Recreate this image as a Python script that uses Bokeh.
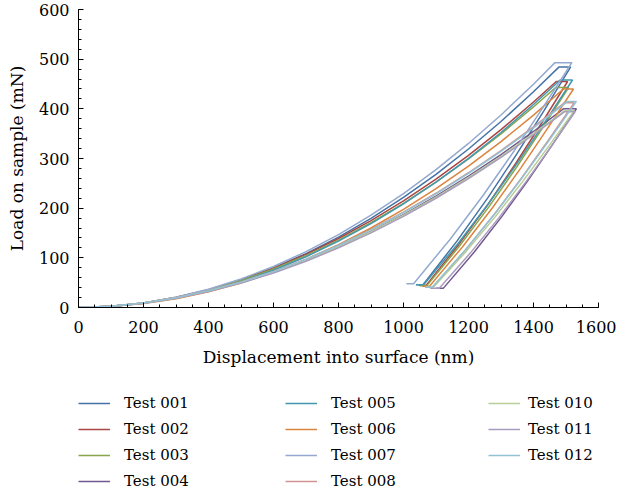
from bokeh.plotting import figure
from bokeh.models import Range1d, Legend, LegendItem, SingleIntervalTicker
from bokeh.layouts import column
from bokeh.embed import file_html
from bokeh.resources import INLINE

tests = ["Test 001", "Test 002", "Test 003", "Test 004", "Test 005", "Test 006",
         "Test 007", "Test 008", "Test 010", "Test 011", "Test 012"]
colors = ["#4572A7", "#AA4643", "#89A54E", "#71588F", "#4198AF", "#DB843D",
          "#93A9CF", "#D19392", "#B9CD96", "#A99BBD", "#92C3D5"]

# loading branch, displacement grid (nm)
load_disp = [0, 100, 200, 300, 400, 500, 600, 700, 800, 900, 1000, 1100, 1200, 1300, 1400]
load_001 = [0, 2.2, 8.9, 19.9, 35.5, 55.4, 79.8, 108.6, 141.8, 179.5, 221.6, 268.1, 319.1, 374.4, 434.3]
load_002 = [0, 2.4, 9.3, 20.5, 36.0, 55.6, 79.3, 107.1, 138.9, 174.8, 214.7, 258.5, 306.3, 358.0, 413.7]
load_003 = [0, 2.4, 9.1, 20.0, 35.1, 54.2, 77.4, 104.5, 135.6, 170.6, 209.5, 252.3, 299.0, 349.5, 403.8]
load_004 = [0, 2.4, 8.8, 19.0, 32.8, 50.1, 70.8, 95.0, 122.4, 153.1, 187.0, 224.2, 264.4, 307.9, 354.4]
load_005 = [0, 2.1, 8.3, 18.8, 33.4, 52.1, 75.1, 102.2, 133.5, 168.9, 208.5, 252.3, 300.3, 352.4, 408.7]
load_006 = [0, 2.0, 7.9, 17.8, 31.6, 49.4, 71.2, 96.9, 126.5, 160.1, 197.7, 239.2, 284.6, 334.1, 387.4]
load_007 = [0, 2.3, 9.2, 20.7, 36.7, 57.4, 82.6, 112.4, 146.8, 185.8, 229.4, 277.6, 330.3, 387.7, 449.6]
load_008 = [0, 2.4, 9.0, 19.5, 33.7, 51.4, 72.7, 97.4, 125.6, 157.1, 191.9, 230.0, 271.3, 315.9, 363.7]
load_010 = [0, 2.5, 9.0, 19.3, 33.2, 50.5, 71.2, 95.1, 122.2, 152.5, 186.0, 222.4, 262.0, 304.5, 350.0]
load_011 = [0, 2.3, 8.6, 18.6, 32.2, 49.2, 69.5, 93.2, 120.1, 150.2, 183.5, 220.0, 259.5, 302.1, 347.8]
load_012 = [0, 2.4, 9.0, 19.4, 33.5, 51.1, 72.3, 96.9, 124.9, 156.2, 190.9, 228.7, 269.9, 314.2, 361.6]

# peak (start and end of hold at max load)
peak_disp = [1478, 1470, 1468, 1492, 1482, 1492, 1466, 1495, 1495, 1495, 1505]
hold_end_disp = [1514, 1505, 1508, 1532, 1520, 1523, 1518, 1525, 1525, 1528, 1532]
peak_load = [484, 455, 443, 400, 458, 440, 493, 412, 396, 394, 415]

# unloading branch incl. final low-load hold
unl_disp_001 = [1432.3, 1348.3, 1259.8, 1164.4, 1060, 1040]
unl_load_001 = [396.4, 308.8, 221.2, 133.6, 46, 46]
unl_disp_002 = [1426.7, 1346.2, 1261.4, 1170.1, 1070, 1048]
unl_load_002 = [373, 291, 209, 127, 45, 45]
unl_disp_003 = [1429.5, 1348.9, 1263.8, 1172.3, 1072, 1050]
unl_load_003 = [363.2, 283.4, 203.6, 123.8, 44, 44]
unl_disp_004 = [1458.4, 1382.7, 1303.0, 1217.1, 1123, 1100]
unl_load_004 = [327.8, 255.6, 183.4, 111.2, 39, 39]
unl_disp_005 = [1437.6, 1352.8, 1263.5, 1167.3, 1062, 1038]
unl_load_005 = [375.6, 293.2, 210.8, 128.4, 46, 46]
unl_disp_006 = [1443.3, 1361.3, 1274.9, 1181.9, 1080, 1058]
unl_load_006 = [360.6, 281.2, 201.8, 122.4, 43, 43]
unl_disp_007 = [1430.3, 1340.2, 1245.3, 1143.0, 1031, 1009]
unl_load_007 = [404, 315, 226, 137, 48, 48]
unl_disp_008 = [1446.7, 1366.2, 1281.4, 1190.1, 1090, 1068]
unl_load_008 = [337.8, 263.6, 189.4, 115.2, 41, 41]
unl_disp_010 = [1447.1, 1367.0, 1282.5, 1191.6, 1092, 1068]
unl_load_010 = [325, 254, 183, 112, 41, 41]
unl_disp_011 = [1452.8, 1375.4, 1293.9, 1206.1, 1110, 1082]
unl_load_011 = [323, 252, 181, 110, 39, 39]
unl_disp_012 = [1452.1, 1369.9, 1283.4, 1190.1, 1088, 1066]
unl_load_012 = [340.2, 265.4, 190.6, 115.8, 41, 41]

loads = [load_001, load_002, load_003, load_004, load_005, load_006,
         load_007, load_008, load_010, load_011, load_012]
unl_disps = [unl_disp_001, unl_disp_002, unl_disp_003, unl_disp_004, unl_disp_005, unl_disp_006,
             unl_disp_007, unl_disp_008, unl_disp_010, unl_disp_011, unl_disp_012]
unl_loads = [unl_load_001, unl_load_002, unl_load_003, unl_load_004, unl_load_005, unl_load_006,
             unl_load_007, unl_load_008, unl_load_010, unl_load_011, unl_load_012]

FONT = "DejaVu Serif"

p = figure(width=616, height=375, x_range=Range1d(0, 1600), y_range=Range1d(0, 600),
           output_backend="svg", toolbar_location=None,
           min_border_left=78, min_border_right=18, min_border_top=9, min_border_bottom=68)
p.outline_line_color = None
p.xgrid.visible = False
p.ygrid.visible = False
p.background_fill_color = "white"
p.border_fill_color = "white"

for i, name in enumerate(tests):
    xs = load_disp + [peak_disp[i], hold_end_disp[i]] + unl_disps[i]
    ys = loads[i] + [peak_load[i], peak_load[i]] + unl_loads[i]
    p.line(xs, ys, line_color=colors[i], line_width=1.5)

p.xaxis.ticker = SingleIntervalTicker(interval=200, num_minor_ticks=4)
p.yaxis.ticker = SingleIntervalTicker(interval=100, num_minor_ticks=5)
p.xaxis.axis_label = "Displacement into surface (nm)"
p.yaxis.axis_label = "Load on sample (mN)"
for ax in (p.xaxis, p.yaxis):
    ax.axis_line_color = "black"
    ax.axis_line_width = 1
    ax.major_tick_in = 5
    ax.major_tick_out = 0
    ax.minor_tick_in = 3
    ax.minor_tick_out = 0
    ax.major_tick_line_color = "black"
    ax.minor_tick_line_color = "black"
    ax.major_label_text_font = FONT
    ax.major_label_text_font_size = "16px"
    ax.major_label_text_color = "black"
    ax.axis_label_text_font = FONT
    ax.axis_label_text_font_size = "17px"
    ax.axis_label_text_font_style = "normal"
    ax.axis_label_text_color = "black"
p.xaxis.major_label_standoff = 13
p.xaxis.axis_label_standoff = 11
p.yaxis.major_label_standoff = 9
p.yaxis.axis_label_standoff = 9

# legend panel below the chart
LH = 118
p2 = figure(width=616, height=LH, x_range=Range1d(0, 1), y_range=Range1d(0, 1),
            output_backend="svg", toolbar_location=None, min_border=0,
            x_axis_location=None, y_axis_location=None)
p2.outline_line_color = None
p2.xgrid.visible = False
p2.ygrid.visible = False
p2.background_fill_color = "white"
p2.border_fill_color = "white"

nan = float("nan")
items = []
for i, name in enumerate(tests):
    # legend key only: a single empty (NaN) point, nothing is drawn in the plot area
    r = p2.line(x=[nan], y=[nan], line_color=colors[i], line_width=1.5)
    items.append(LegendItem(label=name, renderers=[r]))

row_h, gap, top = 20, 6, 18
col_x = [0, 207, 410]
col_standoff = [14, 14, 8]
groups = [items[0:4], items[4:8], items[8:11]]
for cx, so, grp in zip(col_x, col_standoff, groups):
    n = len(grp)
    h = n * row_h + (n - 1) * gap
    leg = Legend(items=grp, location=(cx, LH - top - h), orientation="vertical",
                 border_line_color=None, background_fill_alpha=0, padding=0, margin=0,
                 spacing=gap, glyph_width=32, glyph_height=row_h, label_height=row_h,
                 label_standoff=so, label_text_font=FONT, label_text_font_size="15px",
                 label_text_color="black")
    p2.add_layout(leg)

layout = column(p, p2, spacing=0)
open("out.html", "w").write(file_html(layout, INLINE))
